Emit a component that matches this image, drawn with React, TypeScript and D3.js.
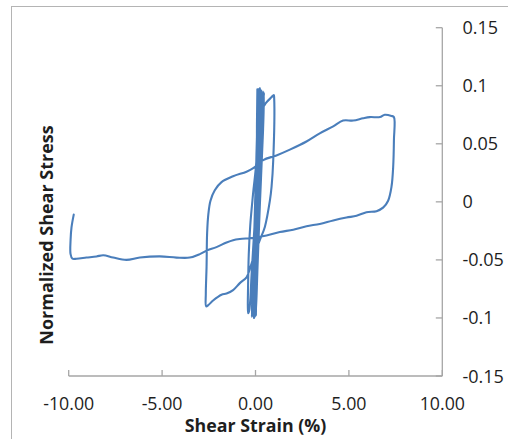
import React from "react";
import * as d3 from "d3";

// Shear strain (%) and normalized shear stress, in drawing order
const bandStrain = [0, 0.05, 0.12, 0.15, 0.1, 0.02, -0.08, -0.18, -0.2, -0.12, -0.02, 0.1, 0.2, 0.24, 0.18, 0.08, -0.04, -0.12, -0.06, 0.04, 0.16, 0.28, 0.22, 0.12, 0.0, -0.08, -0.02, 0.08, 0.22, 0.34, 0.3, 0.18, 0.06, -0.02, 0.02, 0.12, 0.28, 0.42, 0.36, 0.22, 0.1, 0.02, 0.06, 0.16, 0.3, 0.46, 0.4, 0.24, 0.1, 0.0, 0.02, 0.06, 0.1];
const bandStress = [0, 0.04, 0.08, 0.097, 0.06, 0.0, -0.06, -0.097, -0.099, -0.06, 0.0, 0.06, 0.096, 0.098, 0.06, 0.0, -0.06, -0.098, -0.06, 0.0, 0.06, 0.097, 0.06, 0.0, -0.06, -0.1, -0.06, 0.0, 0.06, 0.096, 0.06, 0.0, -0.06, -0.099, -0.06, 0.0, 0.06, 0.095, 0.06, 0.0, -0.06, -0.098, -0.06, 0.0, 0.06, 0.094, 0.06, 0.0, -0.06, -0.097, -0.06, 0.02, 0.097];

const smallStrain = [0.08, 0.05, -0.13, -0.28, -0.36, -0.4, -0.41, -0.39, -0.33, -0.2, -0.05, 0.1, 0.24, 0.32, 0.55, 0.85, 0.98, 1.0, 0.95, 0.86, 0.77, 0.5, 0.23, -0.04, -0.27, -0.48, -0.84, -1.2, -1.55, -1.82, -2.27, -2.53];
const smallStress = [0.07, 0.036, 0.007, -0.02, -0.045, -0.075, -0.09, -0.096, -0.093, -0.06, -0.02, 0.03, 0.065, 0.078, 0.085, 0.09, 0.092, 0.089, 0.036, 0.013, 0.001, -0.0216, -0.033, -0.0445, -0.056, -0.065, -0.07, -0.076, -0.079, -0.08, -0.085, -0.089];

const bigStrain = [-2.64, -2.66, -2.62, -2.59, -2.52, -2.41, -2.18, -1.82, -1.2, -0.48, -0.12, 0.41, 1.12, 1.84, 2.73, 3.44, 4.16, 4.69, 5.23, 5.76, 6.12, 6.66, 6.92, 7.28, 7.41, 7.41, 7.37, 7.28, 7.1, 6.83, 6.48, 5.94, 5.41, 4.87, 4.16, 3.44, 2.73, 2.02, 1.3, 0.59, -0.12, -0.84, -1.2, -1.55, -2.09, -2.62, -2.98, -3.52, -4.23, -5.12, -6.19, -6.91, -7.62, -8.15, -8.51, -9.05, -9.58, -9.8, -9.9, -9.9, -9.85, -9.73];
const bigStress = [-0.09, -0.079, -0.056, -0.027, -0.01, 0.001, 0.01, 0.017, 0.022, 0.026, 0.029, 0.036, 0.04, 0.045, 0.052, 0.059, 0.065, 0.07, 0.07, 0.072, 0.073, 0.073, 0.075, 0.074, 0.073, 0.053, 0.03, 0.013, 0.001, -0.005, -0.008, -0.009, -0.012, -0.0135, -0.016, -0.019, -0.021, -0.024, -0.026, -0.029, -0.031, -0.032, -0.033, -0.035, -0.039, -0.042, -0.045, -0.048, -0.048, -0.047, -0.048, -0.05, -0.048, -0.046, -0.047, -0.048, -0.049, -0.049, -0.045, -0.033, -0.022, -0.011];

const xTicks = [-10, -5, 0, 5, 10];
const yTicks = [-0.15, -0.1, -0.05, 0, 0.05, 0.1, 0.15];

const strain = [...bandStrain, ...smallStrain, ...bigStrain];
const stress = [...bandStress, ...smallStress, ...bigStress];

export default function App() {
  const x = d3.scaleLinear().domain([-10, 10]).range([68.7, 442.3]);
  const y = d3.scaleLinear().domain([-0.15, 0.15]).range([376, 27.7]);
  const pts: [number, number][] = strain.map((s, i) => [s, stress[i]]);
  const line = d3
    .line<[number, number]>()
    .x((d) => x(d[0]))
    .y((d) => y(d[1]))
    .curve(d3.curveCatmullRom.alpha(0.5));
  const axisColor = "#a6a6a6";
  const font = "'Open Sans', sans-serif";
  return (
    <svg
      width={508}
      height={439}
      style={{ position: "absolute", left: 0, top: 0, background: "#fff" }}
    >
      <rect x={11.5} y={6.5} width={600} height={500} fill="#fff" stroke="#b4b4b4" strokeWidth={1} />
      {/* x axis */}
      <line x1={x(-10)} x2={x(10)} y1={y(-0.15)} y2={y(-0.15)} stroke={axisColor} strokeWidth={1.3} />
      {xTicks.map((t) => (
        <g key={"xt" + t}>
          <line x1={x(t)} x2={x(t)} y1={y(-0.15)} y2={y(-0.15) - 6} stroke={axisColor} strokeWidth={1.3} />
          <text x={x(t)} y={409.5} textAnchor="middle" fontFamily={font} fontSize={17.8} fill="#1e1e1e">
            {t.toFixed(2)}
          </text>
        </g>
      ))}
      {/* y axis on right at x = 10 */}
      <line x1={x(10)} x2={x(10)} y1={y(0.15)} y2={y(-0.15)} stroke={axisColor} strokeWidth={1.3} />
      {yTicks.map((t) => (
        <g key={"yt" + t}>
          <line x1={x(10) - 6.5} x2={x(10)} y1={y(t)} y2={y(t)} stroke={axisColor} strokeWidth={1.3} />
          <text x={462.5} y={y(t) + 6.5} textAnchor="start" fontFamily={font} fontSize={18} fill="#1e1e1e">
            {String(t)}
          </text>
        </g>
      ))}
      <path d={line(pts) || ""} fill="none" stroke="#4a7ebb" strokeWidth={2.1} strokeLinejoin="round" strokeLinecap="round" />
      <text x={255.5} y={431.5} textAnchor="middle" fontFamily={font} fontWeight="bold" fontSize={17.8} fill="#1e1e1e">
        Shear Strain (%)
      </text>
      <text
        transform="translate(52.5,235) rotate(-90)"
        textAnchor="middle"
        fontFamily={font}
        fontWeight="bold"
        fontSize={18}
        fill="#1e1e1e"
      >
        Normalized Shear Stress
      </text>
    </svg>
  );
}
